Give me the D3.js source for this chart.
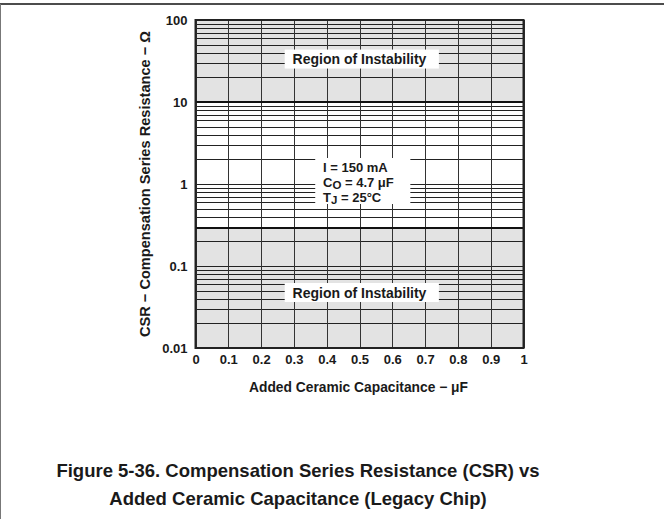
<!DOCTYPE html>
<html><head><meta charset="utf-8">
<script src="https://cdn.jsdelivr.net/npm/d3@7"></script>
<style>
body{margin:0;background:#fff;}
svg text{font-family:"Liberation Sans",Arial,sans-serif;font-weight:bold;fill:#1a1a1a;}
</style></head>
<body><svg id="c" width="664" height="519"></svg>
<script>
// ---- data ----
const xDomain = [0, 1];
const yDomain = [0.01, 100];
const xTicks = [0, 0.1, 0.2, 0.3, 0.4, 0.5, 0.6, 0.7, 0.8, 0.9, 1];
const xTickLabels = ["0", "0.1", "0.2", "0.3", "0.4", "0.5", "0.6", "0.7", "0.8", "0.9", "1"];
const yTicks = [0.01, 0.1, 1, 10, 100];
const yTickLabels = ["0.01", "0.1", "1", "10", "100"];
// unstable regions (CSR ranges, ohms)
const regionLow = [0.01, 0.29];
const regionHigh = [10, 100];
const regionLabels = ["Region of Instability", "Region of Instability"];
const regionLabelPos = [0.0475, 33.4];
const boundaries = [0.29, 10];
const conditions = ["I = 150 mA", "C|O| = 4.7 μF", "T|J| = 25°C"];

const svg = d3.select("#c");
const m = {l:195.5, r:523.5, t:20, b:348};
const x = d3.scaleLinear().domain(xDomain).range([m.l, m.r]);
const y = d3.scaleLog().domain(yDomain).range([m.b, m.t]);

// page frame
svg.append("line").attr("x1",0).attr("x2",664).attr("y1",4).attr("y2",4).attr("stroke","#111").attr("stroke-width",1.6);
svg.append("line").attr("x1",0.5).attr("x2",0.5).attr("y1",4).attr("y2",519).attr("stroke","#777").attr("stroke-width",1);

// shaded regions
[regionLow, regionHigh].forEach(r=>{
  svg.append("rect").attr("x",x(0)).attr("width",x(1)-x(0))
    .attr("y",y(r[1])).attr("height",y(r[0])-y(r[1])).attr("fill","#e3e3e3");
});

// minor/major horizontal gridlines
const hLines = [];
for (let e=-2; e<2; e++) for (let k=1;k<10;k++) hLines.push(k*Math.pow(10,e));
hLines.push(100);
svg.append("g").selectAll("line").data(hLines).join("line")
  .attr("x1",x(0)).attr("x2",x(1))
  .attr("y1",d=>Math.round(y(d))+0.5).attr("y2",d=>Math.round(y(d))+0.5)
  .attr("stroke","#222").attr("stroke-width",1);
// vertical gridlines
svg.append("g").selectAll("line").data(xTicks).join("line")
  .attr("x1",d=>Math.round(x(d))+0.5).attr("x2",d=>Math.round(x(d))+0.5)
  .attr("y1",y(100)).attr("y2",y(0.01))
  .attr("stroke","#333").attr("stroke-width",1);

// boundary lines
svg.append("g").selectAll("line").data(boundaries).join("line")
  .attr("x1",x(0)).attr("x2",x(1))
  .attr("y1",d=>y(d)).attr("y2",d=>y(d))
  .attr("stroke","#111").attr("stroke-width",2);

// frame
svg.append("rect").attr("x",x(0)).attr("y",y(100)).attr("width",x(1)-x(0)).attr("height",y(0.01)-y(100))
  .attr("fill","none").attr("stroke","#222").attr("stroke-width",2);

// axes (labels only)
const yAxis = d3.axisLeft(y).tickValues(yTicks).tickFormat((d,i)=>yTickLabels[i]).tickSize(0).tickPadding(8);
const gy = svg.append("g").attr("transform",`translate(${x(0)},0)`).call(yAxis);
gy.select(".domain").remove();
gy.selectAll("text").attr("font-size",13).attr("font-family","Liberation Sans, Arial").attr("font-weight","bold").attr("fill","#1a1a1a");
const xAxis = d3.axisBottom(x).tickValues(xTicks).tickFormat((d,i)=>xTickLabels[i]).tickSize(0).tickPadding(7);
const gx = svg.append("g").attr("transform",`translate(0,${y(0.01)})`).call(xAxis);
gx.select(".domain").remove();
gx.selectAll("text").attr("font-size",13).attr("font-family","Liberation Sans, Arial").attr("font-weight","bold").attr("fill","#1a1a1a");

// axis titles
svg.append("text").attr("x",(m.l+m.r)/2 - 1).attr("y",392).attr("text-anchor","middle").attr("font-size",13.8)
  .text("Added Ceramic Capacitance − μF");
svg.append("text").attr("transform",`translate(150,184) rotate(-90)`).attr("text-anchor","middle").attr("font-size",14.6)
  .text("CSR − Compensation Series Resistance − Ω");

// region labels
regionLabelPos.forEach((c,i)=>{
  const cy = y(c);
  svg.append("rect").attr("x",x(0.272)).attr("width",x(0.742)-x(0.272)).attr("y",cy-9.5).attr("height",19).attr("fill","#fff");
  svg.append("text").attr("x",(m.l+m.r)/2).attr("y",cy+5).attr("text-anchor","middle").attr("font-size",14).text(regionLabels[i]);
});

// conditions box
svg.append("rect").attr("x",x(0.365)).attr("width",x(0.655)-x(0.365)).attr("y",158).attr("height",46).attr("fill","#fff");
conditions.forEach((s,i)=>{
  const parts = s.split("|");
  const t = svg.append("text").attr("x",323).attr("y",172+i*15).attr("font-size",13);
  t.append("tspan").text(parts[0]);
  if (parts.length>1){
    t.append("tspan").attr("dy",2).attr("font-size",11.5).text(parts[1]);
    t.append("tspan").attr("dy",-2).text(parts[2]);
  }
});

// figure caption
const cap = ["Figure 5-36. Compensation Series Resistance (CSR) vs","Added Ceramic Capacitance (Legacy Chip)"];
cap.forEach((s,i)=>svg.append("text").attr("x",298).attr("y",477+i*28).attr("text-anchor","middle").attr("font-size",18.5).attr("fill","#111").text(s));
</script></body></html>
